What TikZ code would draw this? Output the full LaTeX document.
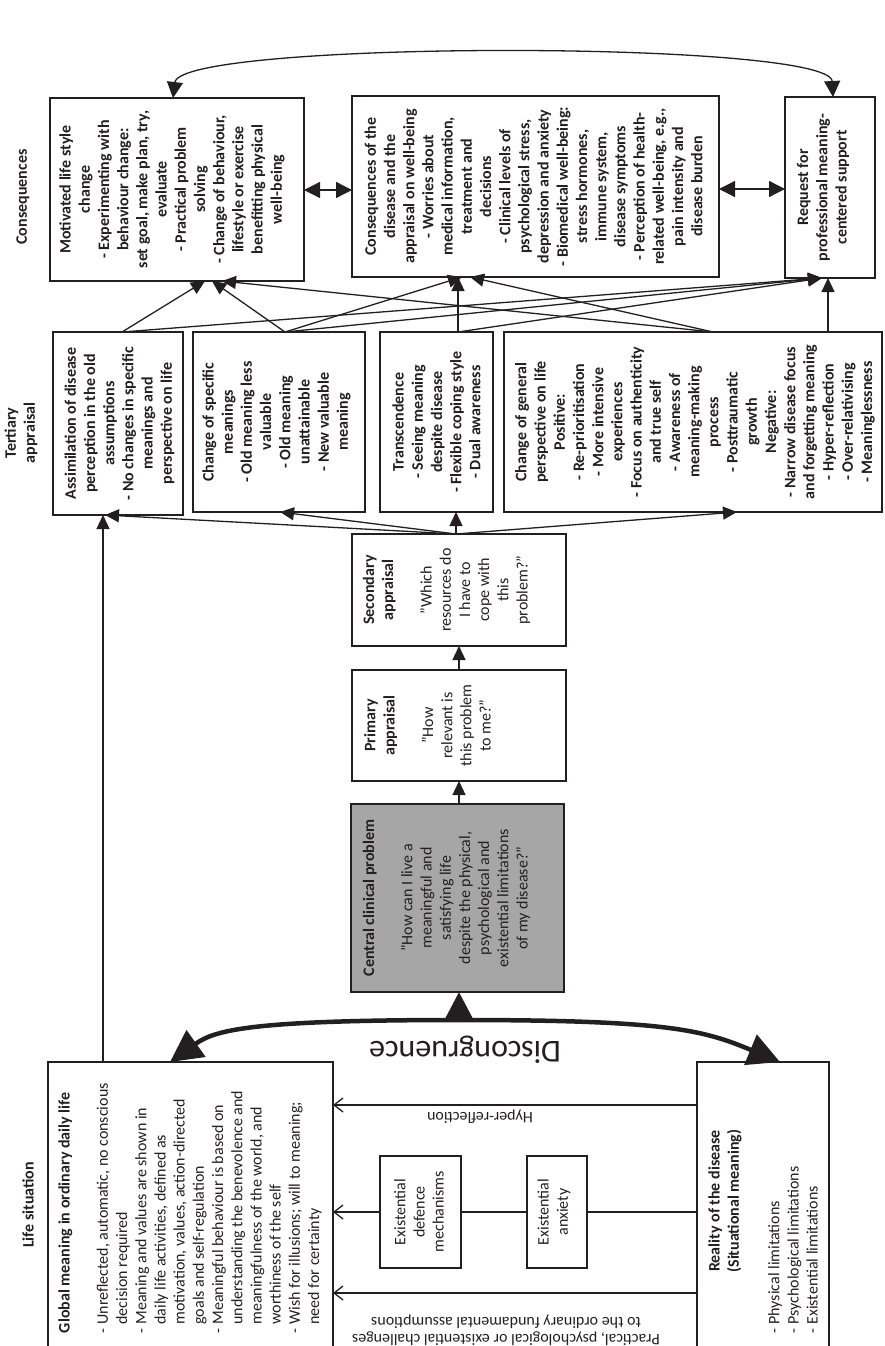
\documentclass[tikz,border=0pt]{standalone}
\usepackage{fontspec}
\setmainfont{Carlito}
\usetikzlibrary{arrows.meta,calc}
\definecolor{ink}{RGB}{35,31,32}
\definecolor{cgray}{RGB}{166,166,166}
\begin{document}
\begin{tikzpicture}[x=1pt,y=-1pt,
  every node/.style={inner sep=0pt, outer sep=0pt, text=ink},
  box/.style={draw=ink, line width=1.8pt, inner sep=0pt},
  txt/.style={rotate=90, align=center, font={\fontsize{16}{19.2}\selectfont}},
  btxt/.style={rotate=90, align=center, font={\fontsize{16}{19.2}\selectfont\bfseries}},
  conn/.style={draw=ink, line width=1.3pt},
  arr/.style={conn, -{Triangle[length=14pt,width=13pt]}},
  darr/.style={conn, {Triangle[length=16pt,width=16pt]}-{Triangle[length=16pt,width=16pt]}},
  oarr/.style={conn, -{Straight Barb[length=9pt,width=14pt,line width=1.3pt]}},
  discarr/.style={draw=ink, line width=4.5pt, {Triangle[length=32pt,width=32pt]}-{Triangle[length=32pt,width=32pt]}}
]
\useasboundingbox (0,0) rectangle (885,1346);
\clip (0,0) rectangle (885,1346);

% ---------- boxes ----------
\node[box, minimum width=254pt, minimum height=183pt] (mot)   at (177,189.5) {};
\node[box, minimum width=367pt, minimum height=181pt] (cons)  at (535.5,186.5) {};
\node[box, minimum width=90pt,  minimum height=181pt] (req)   at (830,187.5) {};
\node[box, minimum width=130pt, minimum height=183pt] (assim) at (118,423.5) {};
\node[box, minimum width=172pt, minimum height=180pt] (spec)  at (279,422) {};
\node[box, minimum width=113pt, minimum height=180pt] (trans) at (436.5,422) {};
\node[box, minimum width=378pt, minimum height=180pt] (gen)   at (693,422) {};
\node[box, minimum width=214pt, minimum height=112pt] (sec)   at (459,590) {};
\node[box, minimum width=214pt, minimum height=111pt] (prim)  at (459,725.5) {};
\node[box, fill=cgray, minimum width=213pt, minimum height=188pt] (cent) at (457.5,898) {};
\node[box, minimum width=285pt, minimum height=358pt] (glob)  at (190.5,1241) {};
\node[box, minimum width=132pt, minimum height=358pt] (real)  at (763,1241) {};
\node[box, minimum width=81pt,  minimum height=112pt] (def)   at (420.5,1212) {};
\node[box, minimum width=60pt,  minimum height=112pt] (anx)   at (557,1212) {};

% ---------- texts ----------
\node[btxt] (mot-t) at (172,189.5) {Motivated life style\\change\\- Experimenting with\\behaviour change:\\set goal, make plan, try,\\evaluate\\- Practical problem\\solving\\- Change of behaviour,\\lifestyle or exercise\\benefitting physical\\well-being};
\node[btxt] (cons-t) at (533.5,186.5) {Consequences of the\\disease and the\\appraisal on well-being\\- Worries about\\medical information,\\treatment and\\decisions\\- Clinical levels of\\psychological stress,\\depression and anxiety\\- Biomedical well-being:\\stress hormones,\\immune system,\\disease symptoms\\- Perception of health-\\related well-being, e.g.,\\pain intensity and\\disease burden};
\node[btxt] (req-t) at (823,187.5) {Request for\\professional meaning-\\centered support};
\node[btxt] (assim-t) at (119.5,423.5) {Assimilation of disease\\perception in the old\\assumptions\\- No changes in specific\\meanings and\\perspective on life};
\node[btxt] (spec-t) at (276.5,422) {Change of specific\\meanings\\- Old meaning less\\valuable\\- Old meaning\\unattainable\\- New valuable\\meaning};
\node[btxt] (trans-t) at (436.5,422) {Transcendence\\- Seeing meaning\\despite disease\\- Flexible coping style\\- Dual awareness};
\node[btxt] (gen-t) at (695,422) {Change of general\\perspective on life\\Positive:\\- Re-prioritisation\\- More intensive\\experiences\\- Focus on authenticity\\and true self\\- Awareness of\\meaning-making\\process\\- Posttraumatic\\growth\\Negative:\\- Narrow disease focus\\and forgetting meaning\\- Hyper-reflection\\- Over-relativising\\- Meaninglessness};
\node[txt] (sec-t) at (446.5,590) {\textbf{Secondary}\\\textbf{appraisal}\\[19.2pt]''Which\\resources do\\I have to\\cope with\\this\\problem?''};
\node[txt] (prim-t) at (427.5,725.5) {\textbf{Primary}\\\textbf{appraisal}\\[19.2pt]''How\\relevant is\\this problem\\to me?''};
\node[txt] (cent-t) at (446.5,898) {\textbf{Central clinical problem}\\[19.2pt]''How can I live a\\meaningful and\\satisfying life\\despite the physical,\\psychological and\\existential limitations\\of my disease?''};
\node[txt] (def-t) at (419,1212) {Existential\\defence\\mechanisms};
\node[txt] (anx-t) at (554,1212) {Existential\\anxiety};
\node[btxt] (real-t) at (725,1201) {Reality of the disease\\(Situational meaning)};
\node[txt, align=left, anchor=west] (real-b) at (793,1333) {- Physical limitations\\- Psychological limitations\\- Existential limitations};
\node[txt, align=left, anchor=west] (glob-t) at (190,1333) {\textbf{Global meaning in ordinary daily life}\\[19.2pt]- Unreflected, automatic, no conscious\\\hphantom{- }decision required\\- Meaning and values are shown in\\\hphantom{- }daily life activities, defined as\\\hphantom{- }motivation, values, action-directed\\\hphantom{- }goals and self-regulation\\- Meaningful behaviour is based on\\\hphantom{- }understanding the benevolence and\\\hphantom{- }meaningfulness of the world, and\\\hphantom{- }worthiness of the self\\- Wish for illusions; will to meaning;\\\hphantom{- }need for certainty};

% ---------- column labels ----------
\node[btxt] (lab-cons) at (23,197) {Consequences};
\node[btxt] (lab-tert) at (21,433) {Tertiary\\appraisal};
\node[btxt] (lab-life) at (28,1205) {Life situation};

% ---------- upside-down labels ----------
\node[rotate=180, font={\fontsize{32}{36}\selectfont}] (disc) at (465,1050) {Discongruence};
\node[rotate=180, font={\fontsize{16}{19}\selectfont}] (hyp) at (480,1117) {Hyper-reflection};
\node[rotate=180, align=center, font={\fontsize{16}{17.5}\selectfont}] (chal) at (506,1330) {Practical, psychological or existential challenges\\to the ordinary fundamental assumptions};

% ---------- connectors ----------
\draw[darr] (mot.north -| 173,0) .. controls (180,40) and (830,40) .. (req.north -| 833,0);
\draw[darr] (mot.east |- 0,190) -- (cons.west |- 0,190);
\draw[darr] (cons.east |- 0,189) -- (req.west |- 0,189);

\draw[arr] (assim.north -| 122,0) -- (mot.south -| 205,0);
\draw[arr] (assim.north -| 122,0) -- (req.south -| 822,0);
\draw[arr] (spec.north -| 285,0) -- (mot.south -| 212,0);
\draw[arr] (spec.north -| 285,0) -- (cons.south -| 462,0);
\draw[arr] (spec.north -| 285,0) -- (req.south -| 822,0);
\draw[arr] (trans.north -| 458,0) -- (cons.south -| 458,0);
\draw[arr] (trans.north -| 458,0) -- (req.south -| 822,0);
\draw[arr] (gen.north -| 713,0) -- (mot.south -| 222,0);
\draw[arr] (gen.north -| 713,0) -- (cons.south -| 470,0);
\draw[arr] (gen.north -| 828,0) -- (req.south -| 828,0);

\draw[arr] (sec.north -| 456,0) -- (assim.south -| 105,0);
\draw[arr] (sec.north -| 456,0) -- (spec.south -| 280,0);
\draw[arr] (sec.north -| 456,0) -- (trans.south -| 456,0);
\draw[arr] (sec.north -| 456,0) -- (gen.south -| 737,0);

\draw[arr] (prim.north) -- (sec.south);
\draw[arr] (cent.north -| 459,0) -- (prim.south -| 459,0);
\draw[arr] (glob.north -| 103,0) -- (assim.south -| 103,0);

\coordinate (peak) at (459,1020);
\draw[discarr] (glob.north -| 170,0) .. controls (215,1030) and (250,1020) .. (peak) .. controls (668,1020) and (703,1030) .. (real.north -| 780,0);
\draw[draw=ink, line width=4pt, -{Triangle[length=26pt,width=26pt]}] (peak) -- (cent.south -| 459,0);

\draw[oarr] (real.west |- 0,1105) -- (glob.east |- 0,1105);
\draw[conn] (real.west |- anx.east) -- (anx.east);
\draw[conn] (anx.west) -- (def.east);
\draw[oarr] (def.west) -- (glob.east |- def.west);
\draw[oarr] (real.west |- 0,1293) -- (glob.east |- 0,1293);
\end{tikzpicture}
\end{document}
